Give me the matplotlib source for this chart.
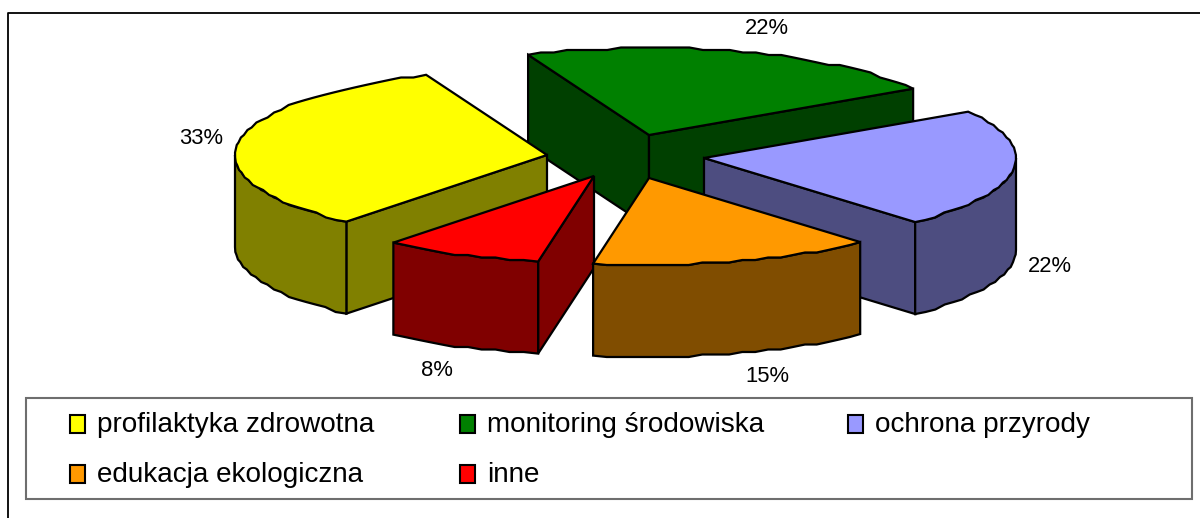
import numpy as np
import matplotlib
matplotlib.use("Agg")
import matplotlib.pyplot as plt
from matplotlib.patches import Polygon, Rectangle

# --- data ---
categories = ["profilaktyka zdrowotna", "monitoring środowiska", "ochrona przyrody",
              "edukacja ekologiczna", "inne"]
shares = [32.55, 22.4, 22.1, 14.7, 8.25]

top_colors = ["#FFFF00", "#008000", "#9999FF", "#FF9900", "#FF0000"]
side_colors = ["#808000", "#004000", "#4D4D80", "#804D00", "#800000"]
apex_xy = {0: (547, 155), 1: (649, 135), 2: (704, 158), 3: (649, 178), 4: (594, 176)}
label_xy = {0: (201, 139), 1: (767, 29), 2: (1050, 267), 3: (767, 377), 4: (437, 370)}
START_ANGLE = 112.8
RX, RY, DEPTH = 312, 87, 92
DRAW_ORDER = [1, 0, 2, 4, 3]
LW = 1.6

plt.rcParams["font.family"] = ["Liberation Sans", "DejaVu Sans"]
fig = plt.figure(figsize=(12, 5.18), dpi=100)
ax = fig.add_axes([0, 0, 1, 1])
ax.set_xlim(0, 1200)
ax.set_ylim(518, 0)
ax.axis("off")


def arc(cx, cy, a_from, a_to):
    n = max(2, int(abs(a_to - a_from) / 2.5) + 1)
    ang = np.radians(np.linspace(a_from, a_to, n))
    x = cx + RX * np.cos(ang)
    y = cy - RY * np.sin(ang)
    # the original's outline is slightly stepped, as in a coarse metafile
    ysn = np.round(y / 2.5) * 2.5
    ysn[0], ysn[-1] = y[0], y[-1]
    return np.column_stack([x, ysn])


def poly(pts, color, z):
    ax.add_patch(Polygon(pts, closed=True, facecolor=color, edgecolor="black",
                         linewidth=LW, joinstyle="miter", zorder=z))


# slice angles, clockwise from the start angle
edges = START_ANGLE - np.concatenate([[0], np.cumsum(np.roll(shares, -1))]) * 3.6
slices = {}
for k, idx in enumerate([1, 2, 3, 4, 0]):
    slices[idx] = (edges[k], edges[k + 1])

z = 1
for i in DRAW_ORDER:
    cx, cy = apex_xy[i]
    a1, a2 = slices[i]
    down = np.array([0, DEPTH])
    top_arc = arc(cx, cy, a1, a2)
    apex = np.array([cx, cy], float)
    # radial faces that look towards the viewer
    if np.sin(np.radians(a1 + 90)) < 0:
        p = top_arc[0]
        poly([apex, p, p + down, apex + down], side_colors[i], z); z += 1
    if np.sin(np.radians(a2 - 90)) < 0:
        p = top_arc[-1]
        poly([apex, p, p + down, apex + down], side_colors[i], z); z += 1
    # outer wall: the front half of the arc only
    for lo, hi in [(-180, 0), (-540, -360)]:
        s, e = min(a1, hi), max(a2, lo)
        if s > e:
            w = arc(cx, cy, s, e)
            poly(np.vstack([w, w[::-1] + down]), side_colors[i], z); z += 1
    poly(np.vstack([apex, top_arc]), top_colors[i], z); z += 1

for i, v in enumerate(shares):
    ax.text(*label_xy[i], f"{v:.0f}%", ha="center", va="center", fontsize=15.8, color="black", zorder=50)

# outer frame: only the top and left sides are in the picture
ax.plot([7.5, 7.5, 1200], [518, 12.5, 12.5], color="black", lw=1.3, zorder=0)

# legend
ax.add_patch(Rectangle((26, 398), 1166, 101, facecolor="white", edgecolor="#6E6E6E", lw=1.5, zorder=40))
col_x = [70, 460, 848]
row_y = [424, 474]
for i, name in enumerate(categories):
    x, y = col_x[i % 3], row_y[i // 3]
    ax.add_patch(Rectangle((x, y - 9), 15, 18, facecolor=top_colors[i], edgecolor="black", lw=1.5, zorder=41))
    ax.text(x + 27, y + 1, name, ha="left", va="center", fontsize=20.1, color="black", zorder=41)

fig.savefig("out.png", dpi=100, facecolor="white")
